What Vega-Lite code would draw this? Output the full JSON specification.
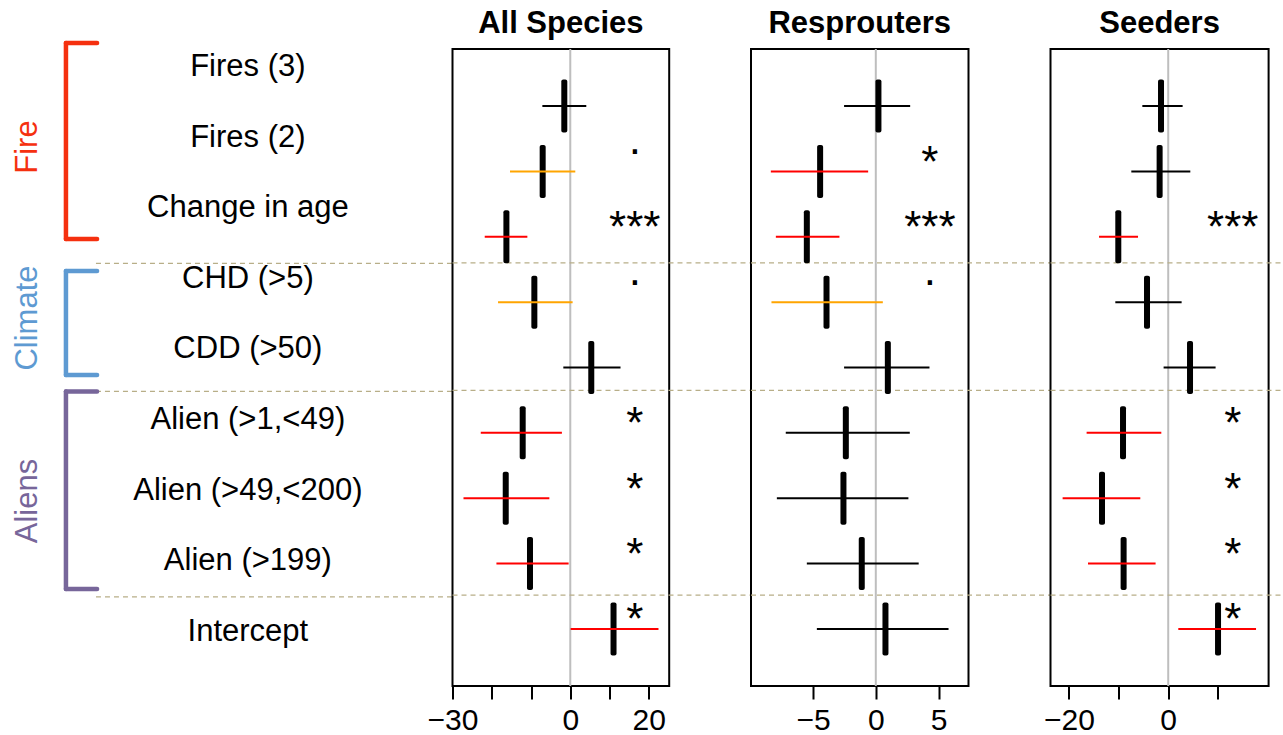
{
  "$schema": "https://vega.github.io/schema/vega-lite/v6.json",
  "padding": {"left": 0, "top": 7, "right": 0, "bottom": 0},
  "bounds": "flush",
  "spacing": 81.5,
  "resolve": {"scale": {"color": "independent"}},
  "config": {
    "font": "Liberation Sans",
    "view": {"stroke": "black", "strokeWidth": 2},
    "title": {"fontSize": 31, "fontWeight": "bold", "font": "Liberation Sans", "color": "black", "frame": "group", "baseline": "alphabetic", "offset": 8},
    "axis": {"domain": false, "grid": false, "tickSize": 13, "tickWidth": 2, "tickColor": "black", "labelFontSize": 30, "labelColor": "black", "labelFont": "Liberation Sans", "labelPadding": 6, "title": null, "labelFlush": false, "labelOverlap": false, "labelBound": false}
  },
  "datasets": {
    "coef": [
      {"panel": "All Species", "row": 1, "est": -1.52, "lo": -7.11, "hi": 4.08, "cls": "ns", "sig": ""},
      {"panel": "All Species", "row": 2, "est": -7.03, "lo": -15.35, "hi": 1.28, "cls": "marg", "sig": "."},
      {"panel": "All Species", "row": 3, "est": -16.27, "lo": -21.79, "hi": -10.93, "cls": "sig", "sig": "***"},
      {"panel": "All Species", "row": 4, "est": -9.15, "lo": -18.4, "hi": 0.6, "cls": "marg", "sig": "."},
      {"panel": "All Species", "row": 5, "est": 5.35, "lo": -1.77, "hi": 12.8, "cls": "ns", "sig": ""},
      {"panel": "All Species", "row": 6, "est": -12.12, "lo": -22.8, "hi": -2.13, "cls": "sig", "sig": "*"},
      {"panel": "All Species", "row": 7, "est": -16.44, "lo": -27.2, "hi": -5.33, "cls": "sig", "sig": "*"},
      {"panel": "All Species", "row": 8, "est": -10.26, "lo": -18.81, "hi": -0.42, "cls": "sig", "sig": "*"},
      {"panel": "All Species", "row": 9, "est": 11.02, "lo": 0.09, "hi": 22.47, "cls": "sig", "sig": "*"},
      {"panel": "Resprouters", "row": 1, "est": 0.21, "lo": -2.53, "hi": 2.74, "cls": "ns", "sig": ""},
      {"panel": "Resprouters", "row": 2, "est": -4.44, "lo": -8.37, "hi": -0.61, "cls": "sig", "sig": "*"},
      {"panel": "Resprouters", "row": 3, "est": -5.5, "lo": -7.97, "hi": -2.9, "cls": "sig", "sig": "***"},
      {"panel": "Resprouters", "row": 4, "est": -3.93, "lo": -8.32, "hi": 0.56, "cls": "marg", "sig": "."},
      {"panel": "Resprouters", "row": 5, "est": 0.96, "lo": -2.53, "hi": 4.28, "cls": "ns", "sig": ""},
      {"panel": "Resprouters", "row": 6, "est": -2.39, "lo": -7.18, "hi": 2.71, "cls": "ns", "sig": ""},
      {"panel": "Resprouters", "row": 7, "est": -2.58, "lo": -7.89, "hi": 2.6, "cls": "ns", "sig": ""},
      {"panel": "Resprouters", "row": 8, "est": -1.12, "lo": -5.5, "hi": 3.42, "cls": "ns", "sig": ""},
      {"panel": "Resprouters", "row": 9, "est": 0.77, "lo": -4.7, "hi": 5.8, "cls": "ns", "sig": ""},
      {"panel": "Seeders", "row": 1, "est": -1.45, "lo": -5.21, "hi": 2.9, "cls": "ns", "sig": ""},
      {"panel": "Seeders", "row": 2, "est": -1.73, "lo": -7.43, "hi": 4.45, "cls": "ns", "sig": ""},
      {"panel": "Seeders", "row": 3, "est": -10.05, "lo": -13.93, "hi": -6.08, "cls": "sig", "sig": "***"},
      {"panel": "Seeders", "row": 4, "est": -4.27, "lo": -10.65, "hi": 2.7, "cls": "ns", "sig": ""},
      {"panel": "Seeders", "row": 5, "est": 4.39, "lo": -0.93, "hi": 9.54, "cls": "ns", "sig": ""},
      {"panel": "Seeders", "row": 6, "est": -9.1, "lo": -16.43, "hi": -1.39, "cls": "sig", "sig": "*"},
      {"panel": "Seeders", "row": 7, "est": -13.33, "lo": -21.26, "hi": -5.62, "cls": "sig", "sig": "*"},
      {"panel": "Seeders", "row": 8, "est": -8.98, "lo": -16.15, "hi": -2.54, "cls": "sig", "sig": "*"},
      {"panel": "Seeders", "row": 9, "est": 10.03, "lo": 2.03, "hi": 17.68, "cls": "sig", "sig": "*"}
    ],
    "labels": [
      {"row": 1, "label": "Fires (3)"},
      {"row": 2, "label": "Fires (2)"},
      {"row": 3, "label": "Change in age"},
      {"row": 4, "label": "CHD (>5)"},
      {"row": 5, "label": "CDD (>50)"},
      {"row": 6, "label": "Alien (>1,<49)"},
      {"row": 7, "label": "Alien (>49,<200)"},
      {"row": 8, "label": "Alien (>199)"},
      {"row": 9, "label": "Intercept"}
    ],
    "groups": [
      {"group": "Fire", "start": 0.66, "end": 3.435, "mid": 2.133},
      {"group": "Climate", "start": 3.889, "end": 5.361, "mid": 4.554},
      {"group": "Aliens", "start": 5.594, "end": 8.391, "mid": 7.145}
    ],
    "seps": [
      {"ys": 3.398, "yl": 3.78},
      {"ys": 5.35, "yl": 5.594},
      {"ys": 8.484, "yl": 8.502}
    ]
  },
  "hconcat": [
    {
      "width": 370.5,
      "height": 637,
      "view": {"stroke": null},
      "layer": [
        {
          "data": {"name": "seps"},
          "mark": {"type": "rule", "color": "#b8ae88", "strokeDash": [5, 4], "strokeWidth": 1.2},
          "encoding": {
            "x": {"datum": 25.9, "type": "quantitative", "scale": {"domain": [0, 100], "nice": false, "zero": false}, "axis": null},
            "x2": {"datum": 122},
            "y": {"field": "yl", "type": "quantitative", "scale": {"domain": [0.745, 9.765], "reverse": true, "nice": false, "zero": false}, "axis": null}
          }
        },
        {
          "data": {"name": "labels"},
          "mark": {"type": "text", "fontSize": 31, "align": "center", "baseline": "middle", "color": "black"},
          "encoding": {
            "x": {"datum": 66.9, "type": "quantitative"},
            "y": {"field": "row", "type": "quantitative"},
            "text": {"field": "label"}
          }
        },
        {
          "data": {"name": "groups"},
          "mark": {"type": "rule", "strokeWidth": 4.5, "strokeCap": "round"},
          "encoding": {
            "x": {"datum": 17.8, "type": "quantitative"},
            "y": {"field": "start", "type": "quantitative"},
            "y2": {"field": "end"},
            "color": {"field": "group", "type": "nominal", "scale": {"domain": ["Fire", "Climate", "Aliens"], "range": ["#f5300f", "#5e9ad2", "#77669a"]}, "legend": null}
          }
        },
        {
          "data": {"name": "groups"},
          "mark": {"type": "rule", "strokeWidth": 4.5, "strokeCap": "round"},
          "encoding": {
            "x": {"datum": 17.8, "type": "quantitative"},
            "x2": {"datum": 26.2},
            "y": {"field": "start", "type": "quantitative"},
            "color": {"field": "group", "type": "nominal", "legend": null}
          }
        },
        {
          "data": {"name": "groups"},
          "mark": {"type": "rule", "strokeWidth": 4.5, "strokeCap": "round"},
          "encoding": {
            "x": {"datum": 17.8, "type": "quantitative"},
            "x2": {"datum": 26.2},
            "y": {"field": "end", "type": "quantitative"},
            "color": {"field": "group", "type": "nominal", "legend": null}
          }
        },
        {
          "data": {"name": "groups"},
          "mark": {"type": "text", "angle": 270, "fontSize": 31, "align": "center", "baseline": "middle"},
          "encoding": {
            "x": {"datum": 7.48, "type": "quantitative"},
            "y": {"field": "mid", "type": "quantitative"},
            "text": {"field": "group"},
            "color": {"field": "group", "type": "nominal", "legend": null}
          }
        }
      ]
    },
    {
      "width": 216.7,
      "height": 637,
      "title": {"text": "All Species"},
      "layer": [
        {
          "data": {"values": [{}]},
          "mark": {"type": "rule", "color": "#bebebe", "strokeWidth": 2},
          "encoding": {
            "x": {"datum": 0, "type": "quantitative", "scale": {"domain": [-30, 25.2], "nice": false, "zero": false},
                  "axis": {"values": [-30, -20, -10, 0, 10, 20], "labelExpr": "datum.value == -30 || datum.value == 0 || datum.value == 20 ? datum.label : ''"}},
            "y": {"datum": 0.127, "type": "quantitative", "scale": {"domain": [0.127, 9.873], "reverse": true, "nice": false, "zero": false}, "axis": null},
            "y2": {"datum": 9.873}
          }
        },
        {
          "data": {"name": "seps"},
          "mark": {"type": "rule", "color": "#b8ae88", "strokeDash": [5, 4], "strokeWidth": 1.2},
          "encoding": {
            "x": {"datum": -30, "type": "quantitative"},
            "x2": {"datum": 46.09},
            "y": {"field": "ys", "type": "quantitative"}
          }
        },
        {
          "data": {"name": "coef"},
          "transform": [{"filter": "datum.panel == 'All Species'"}],
          "mark": {"type": "tick", "orient": "vertical", "size": 53, "thickness": 6, "color": "black", "cornerRadius": 2, "opacity": 1},
          "encoding": {
            "x": {"field": "est", "type": "quantitative"},
            "y": {"field": "row", "type": "quantitative"}
          }
        },
        {
          "data": {"name": "coef"},
          "transform": [{"filter": "datum.panel == 'All Species'"}],
          "mark": {"type": "rule", "strokeWidth": 2},
          "encoding": {
            "x": {"field": "lo", "type": "quantitative"},
            "x2": {"field": "hi"},
            "y": {"field": "row", "type": "quantitative"},
            "color": {"field": "cls", "type": "nominal", "scale": {"domain": ["ns", "marg", "sig"], "range": ["#000000", "#ffa500", "#ff0000"]}, "legend": null}
          }
        },
        {
          "data": {"name": "coef"},
          "transform": [{"filter": "datum.panel == 'All Species' && indexof(datum.sig, '*') >= 0"}],
          "mark": {"type": "text", "fontSize": 44, "align": "center", "baseline": "alphabetic", "dy": 5.5, "color": "black"},
          "encoding": {
            "x": {"datum": 16.43, "type": "quantitative"},
            "y": {"field": "row", "type": "quantitative"},
            "text": {"field": "sig"}
          }
        },
        {
          "data": {"name": "coef"},
          "transform": [{"filter": "datum.panel == 'All Species' && datum.sig == '.'"}],
          "mark": {"type": "text", "fontSize": 44, "align": "center", "baseline": "alphabetic", "dy": -17, "color": "black"},
          "encoding": {
            "x": {"datum": 16.43, "type": "quantitative"},
            "y": {"field": "row", "type": "quantitative"},
            "text": {"field": "sig"}
          }
        }
      ]
    },
    {
      "width": 217.5,
      "height": 637,
      "title": {"text": "Resprouters"},
      "layer": [
        {
          "data": {"values": [{}]},
          "mark": {"type": "rule", "color": "#bebebe", "strokeWidth": 2},
          "encoding": {
            "x": {"datum": 0, "type": "quantitative", "scale": {"domain": [-9.952, 7.392], "nice": false, "zero": false},
                  "axis": {"values": [-5, 0, 5]}},
            "y": {"datum": 0.127, "type": "quantitative", "scale": {"domain": [0.127, 9.873], "reverse": true, "nice": false, "zero": false}, "axis": null},
            "y2": {"datum": 9.873}
          }
        },
        {
          "data": {"name": "seps"},
          "mark": {"type": "rule", "color": "#b8ae88", "strokeDash": [5, 4], "strokeWidth": 1.2},
          "encoding": {
            "x": {"datum": -9.952, "type": "quantitative"},
            "x2": {"datum": 13.89},
            "y": {"field": "ys", "type": "quantitative"}
          }
        },
        {
          "data": {"name": "coef"},
          "transform": [{"filter": "datum.panel == 'Resprouters'"}],
          "mark": {"type": "tick", "orient": "vertical", "size": 53, "thickness": 6, "color": "black", "cornerRadius": 2, "opacity": 1},
          "encoding": {
            "x": {"field": "est", "type": "quantitative"},
            "y": {"field": "row", "type": "quantitative"}
          }
        },
        {
          "data": {"name": "coef"},
          "transform": [{"filter": "datum.panel == 'Resprouters'"}],
          "mark": {"type": "rule", "strokeWidth": 2},
          "encoding": {
            "x": {"field": "lo", "type": "quantitative"},
            "x2": {"field": "hi"},
            "y": {"field": "row", "type": "quantitative"},
            "color": {"field": "cls", "type": "nominal", "scale": {"domain": ["ns", "marg", "sig"], "range": ["#000000", "#ffa500", "#ff0000"]}, "legend": null}
          }
        },
        {
          "data": {"name": "coef"},
          "transform": [{"filter": "datum.panel == 'Resprouters' && indexof(datum.sig, '*') >= 0"}],
          "mark": {"type": "text", "fontSize": 44, "align": "center", "baseline": "alphabetic", "dy": 5.5, "color": "black"},
          "encoding": {
            "x": {"datum": 4.31, "type": "quantitative"},
            "y": {"field": "row", "type": "quantitative"},
            "text": {"field": "sig"}
          }
        },
        {
          "data": {"name": "coef"},
          "transform": [{"filter": "datum.panel == 'Resprouters' && datum.sig == '.'"}],
          "mark": {"type": "text", "fontSize": 44, "align": "center", "baseline": "alphabetic", "dy": -17, "color": "black"},
          "encoding": {
            "x": {"datum": 4.31, "type": "quantitative"},
            "y": {"field": "row", "type": "quantitative"},
            "text": {"field": "sig"}
          }
        }
      ]
    },
    {
      "width": 218.1,
      "height": 637,
      "title": {"text": "Seeders"},
      "layer": [
        {
          "data": {"values": [{}]},
          "mark": {"type": "rule", "color": "#bebebe", "strokeWidth": 2},
          "encoding": {
            "x": {"datum": 0, "type": "quantitative", "scale": {"domain": [-23.7, 20.21], "nice": false, "zero": false},
                  "axis": {"values": [-20, -10, 0, 10], "labelExpr": "datum.value == -20 || datum.value == 0 ? datum.label : ''"}},
            "y": {"datum": 0.127, "type": "quantitative", "scale": {"domain": [0.127, 9.873], "reverse": true, "nice": false, "zero": false}, "axis": null},
            "y2": {"datum": 9.873}
          }
        },
        {
          "data": {"name": "seps"},
          "mark": {"type": "rule", "color": "#b8ae88", "strokeDash": [5, 4], "strokeWidth": 1.2},
          "encoding": {
            "x": {"datum": -23.7, "type": "quantitative"},
            "x2": {"datum": 23.37},
            "y": {"field": "ys", "type": "quantitative"}
          }
        },
        {
          "data": {"name": "coef"},
          "transform": [{"filter": "datum.panel == 'Seeders'"}],
          "mark": {"type": "tick", "orient": "vertical", "size": 53, "thickness": 6, "color": "black", "cornerRadius": 2, "opacity": 1},
          "encoding": {
            "x": {"field": "est", "type": "quantitative"},
            "y": {"field": "row", "type": "quantitative"}
          }
        },
        {
          "data": {"name": "coef"},
          "transform": [{"filter": "datum.panel == 'Seeders'"}],
          "mark": {"type": "rule", "strokeWidth": 2},
          "encoding": {
            "x": {"field": "lo", "type": "quantitative"},
            "x2": {"field": "hi"},
            "y": {"field": "row", "type": "quantitative"},
            "color": {"field": "cls", "type": "nominal", "scale": {"domain": ["ns", "marg", "sig"], "range": ["#000000", "#ffa500", "#ff0000"]}, "legend": null}
          }
        },
        {
          "data": {"name": "coef"},
          "transform": [{"filter": "datum.panel == 'Seeders' && indexof(datum.sig, '*') >= 0"}],
          "mark": {"type": "text", "fontSize": 44, "align": "center", "baseline": "alphabetic", "dy": 5.5, "color": "black"},
          "encoding": {
            "x": {"datum": 13.0, "type": "quantitative"},
            "y": {"field": "row", "type": "quantitative"},
            "text": {"field": "sig"}
          }
        }
      ]
    }
  ]
}
